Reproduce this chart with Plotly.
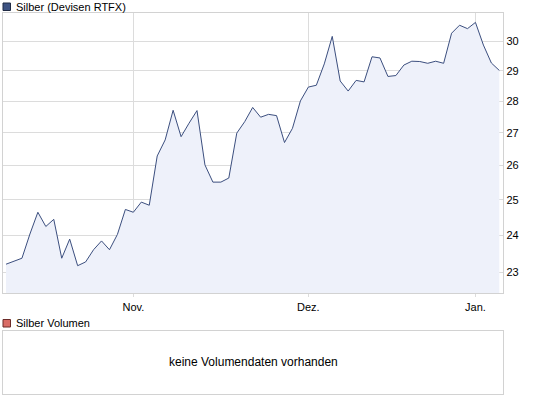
import plotly.graph_objects as go

# Trading days (category axis)
dates = [
    "2010-10-08",
    "2010-10-11", "2010-10-12", "2010-10-13", "2010-10-14", "2010-10-15",
    "2010-10-18", "2010-10-19", "2010-10-20", "2010-10-21", "2010-10-22",
    "2010-10-25", "2010-10-26", "2010-10-27", "2010-10-28", "2010-10-29",
    "2010-11-01", "2010-11-02", "2010-11-03", "2010-11-04", "2010-11-05",
    "2010-11-08", "2010-11-09", "2010-11-10", "2010-11-11", "2010-11-12",
    "2010-11-15", "2010-11-16", "2010-11-17", "2010-11-18", "2010-11-19",
    "2010-11-22", "2010-11-23", "2010-11-24", "2010-11-25", "2010-11-26",
    "2010-11-29", "2010-11-30",
    "2010-12-01", "2010-12-02", "2010-12-03",
    "2010-12-06", "2010-12-07", "2010-12-08", "2010-12-09", "2010-12-10",
    "2010-12-13", "2010-12-14", "2010-12-15", "2010-12-16", "2010-12-17",
    "2010-12-20", "2010-12-21", "2010-12-22", "2010-12-23",
    "2010-12-27", "2010-12-28", "2010-12-29", "2010-12-30",
    "2011-01-03", "2011-01-04", "2011-01-05", "2011-01-06",
]

prices = [
    23.21, 23.30, 23.37, 24.03, 24.64, 24.24, 24.44, 23.37, 23.89, 23.17,
    23.27, 23.60, 23.84, 23.60, 24.02, 24.72, 24.64, 24.93, 24.84, 26.29,
    26.78, 27.71, 26.88, 27.30, 27.70, 26.02, 25.51, 25.51, 25.63, 26.99,
    27.35, 27.80, 27.49, 27.58, 27.54, 26.70, 27.14, 28.01, 28.46, 28.52,
    29.23, 30.17, 28.66, 28.33, 28.68, 28.63, 29.47, 29.43, 28.81, 28.84,
    29.19, 29.32, 29.31, 29.25, 29.32, 29.25, 30.28, 30.56, 30.44, 30.66,
    29.87, 29.26, 29.01,
]

month_ticks = ["2010-11-01", "2010-12-01", "2011-01-03"]
month_labels = ["Nov.", "Dez.", "Jan."]
y_ticks = [23, 24, 25, 26, 27, 28, 29, 30]

W, H = 545, 398
def px(x):
    return x / W
def py(y):
    return 1 - y / H

GRID = "#dcdcdc"
FRAME = "#d2d2d2"
FONT = "Liberation Sans"

fig = go.Figure()
fig.add_trace(go.Scatter(
    x=dates, y=prices, mode="lines",
    line=dict(color="#3b4e7e", width=1),
    fill="tozeroy", fillcolor="#eef1fa",
    hoverinfo="skip", showlegend=False,
))

fig.update_layout(
    width=W, height=H,
    margin=dict(l=0, r=0, t=0, b=0),
    paper_bgcolor="white", plot_bgcolor="white",
    font=dict(family=FONT, size=11, color="#000000"),
    hovermode=False,
    xaxis=dict(
        type="category",
        domain=[px(2.7), px(503.3)],
        range=[-0.42, 62.5],
        tickvals=month_ticks, ticktext=month_labels,
        showgrid=True, gridcolor=GRID, gridwidth=1,
        ticks="outside", ticklen=3, tickcolor=GRID,
        showline=True, linecolor=FRAME, linewidth=1, mirror=True,
        tickfont=dict(size=11), zeroline=False,
    ),
    yaxis=dict(
        type="log",
        domain=[py(293.3), py(13.3)],
        range=[1.35112, 1.49112],
        side="right",
        tickvals=y_ticks, ticktext=[str(v) for v in y_ticks],
        showgrid=True, gridcolor=GRID, gridwidth=1,
        ticks="", showline=True, linecolor=FRAME, linewidth=1, mirror=True,
        tickfont=dict(size=11), zeroline=False,
    ),
    xaxis2=dict(
        domain=[px(2.7), px(503.3)], anchor="y2", range=[0, 1],
        showgrid=False, showticklabels=False, zeroline=False,
        showline=True, linecolor=FRAME, linewidth=1, mirror=True,
    ),
    yaxis2=dict(
        domain=[py(394), py(331.4)], anchor="x2", range=[0, 1],
        showgrid=False, showticklabels=False, zeroline=False,
        showline=True, linecolor=FRAME, linewidth=1, mirror=True,
    ),
)

# invisible trace to render the second panel
fig.add_trace(go.Scatter(x=[0.5], y=[0.5], xaxis="x2", yaxis="y2",
                         mode="markers", marker=dict(opacity=0),
                         hoverinfo="skip", showlegend=False))

# legend squares
fig.add_shape(type="rect", xref="paper", yref="paper",
              x0=px(3), x1=px(10.5), y0=py(10.5), y1=py(3),
              fillcolor="#3d5282", line=dict(color="#1f2a44", width=1))
fig.add_shape(type="rect", xref="paper", yref="paper",
              x0=px(3), x1=px(10.5), y0=py(327), y1=py(319.5),
              fillcolor="#d96c66", line=dict(color="#6b2b28", width=1))

fig.add_annotation(text="Silber (Devisen RTFX)", xref="paper", yref="paper",
                   x=px(14), y=py(7), xanchor="left", yanchor="middle",
                   showarrow=False, font=dict(size=11, family=FONT))
fig.add_annotation(text="Silber Volumen", xref="paper", yref="paper",
                   x=px(14), y=py(323), xanchor="left", yanchor="middle",
                   showarrow=False, font=dict(size=11, family=FONT))
fig.add_annotation(text="keine Volumendaten vorhanden", xref="paper", yref="paper",
                   x=px(253), y=py(362), xanchor="center", yanchor="middle",
                   showarrow=False, font=dict(size=12, family=FONT))

fig.write_html("out.html",
               config={"displayModeBar": False, "staticPlot": True},
               post_script="document.body.style.margin='0';document.body.style.overflow='hidden';")
